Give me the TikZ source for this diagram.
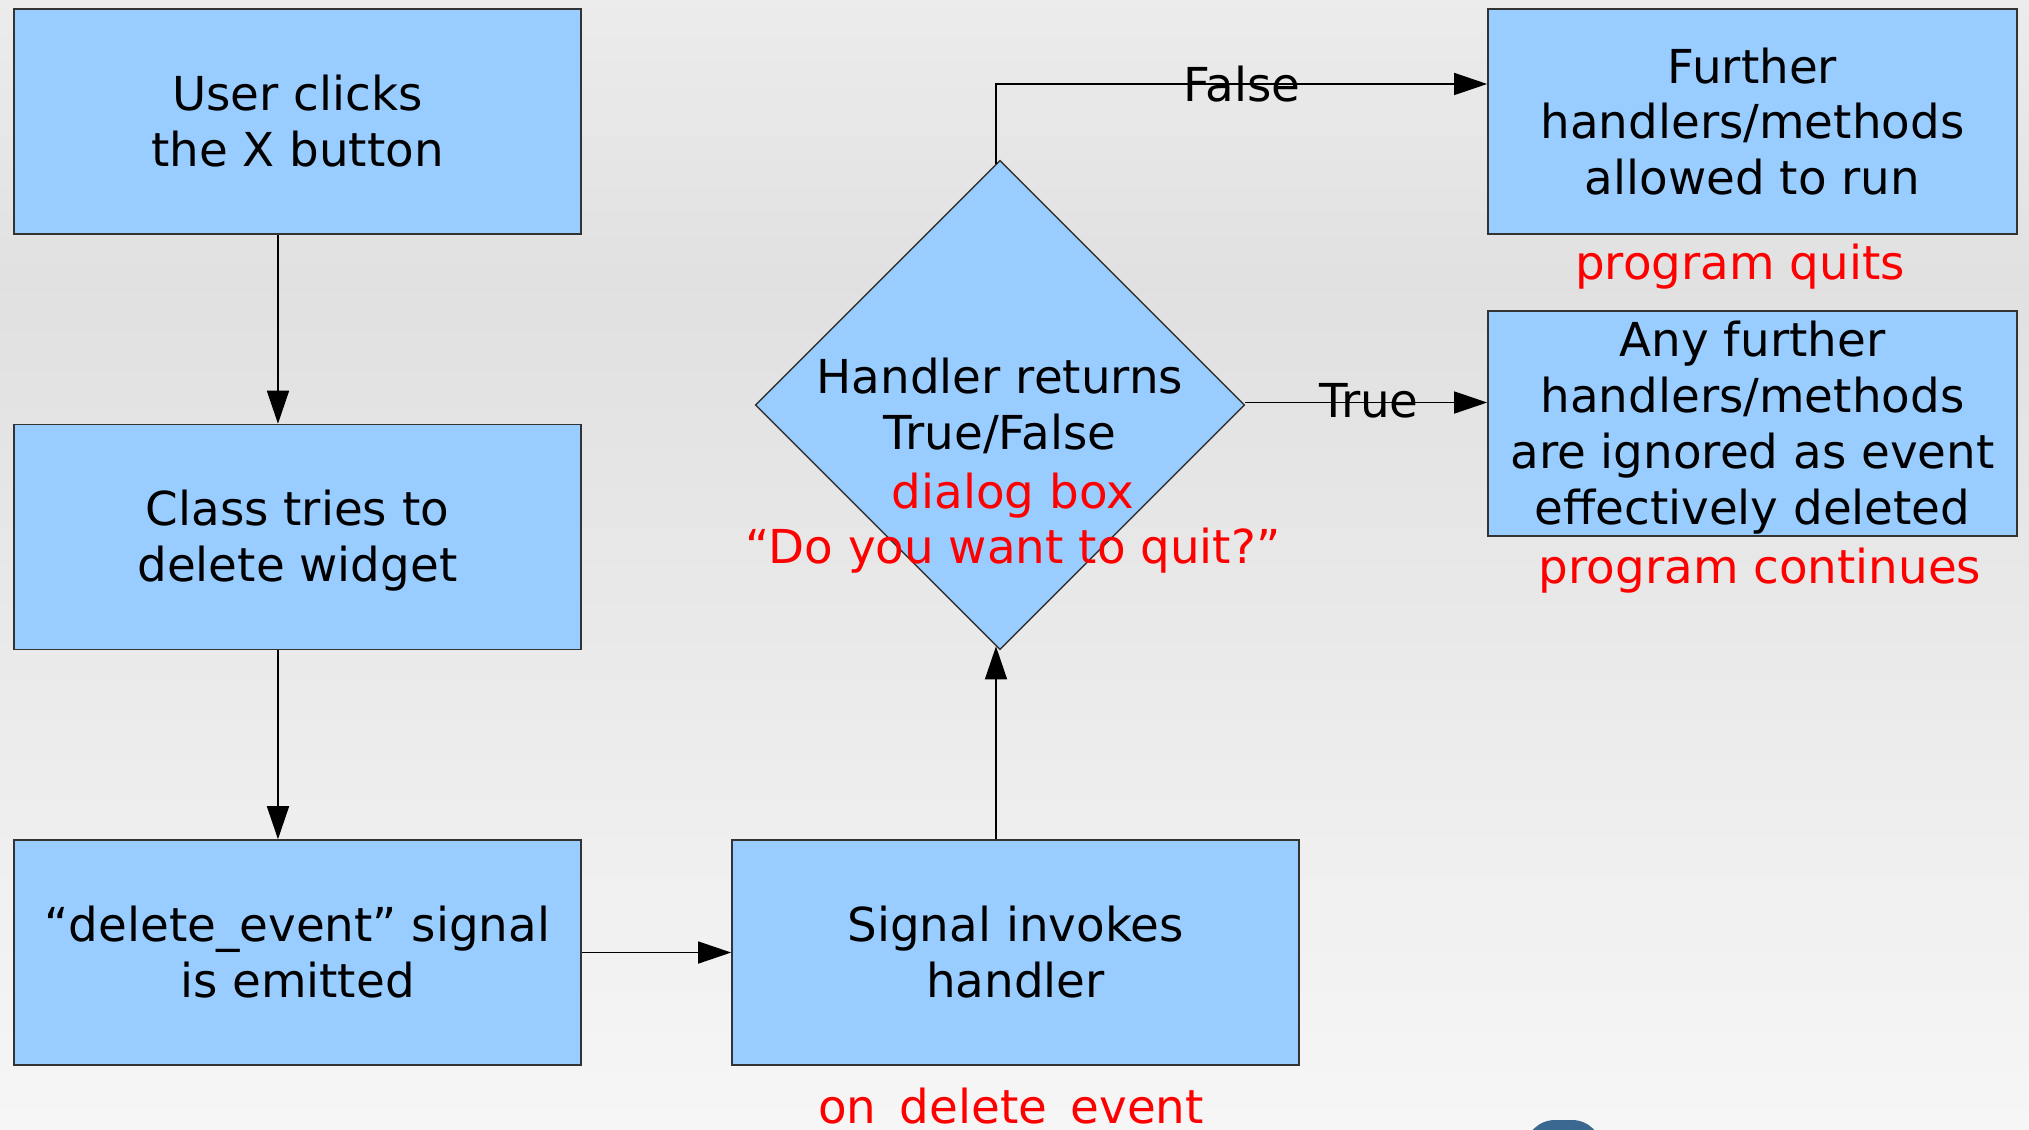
\documentclass[tikz,border=0pt]{standalone}
\usepackage{fontspec}
\setmainfont{DejaVu Sans}
\usetikzlibrary{shapes.geometric,arrows.meta}
\definecolor{boxblue}{HTML}{99CCFF}
\definecolor{bordergray}{HTML}{333333}
\definecolor{logoblue}{HTML}{3A6890}
\tikzset{
  every node/.style={font=\fontsize{13.3pt}{15.9pt}\selectfont},
  procbox/.style={draw=bordergray, line width=0.4pt, fill=boxblue, rectangle,
    minimum width=5.67cm, minimum height=2.25cm, inner sep=0pt, align=center},
  decbox/.style={draw=bordergray, line width=0.4pt, fill=boxblue, diamond,
    minimum size=4.89cm, inner sep=0pt},
  arr/.style={draw=black, line width=0.45pt, -{Triangle[length=0.33cm,width=0.22cm]}},
  redtxt/.style={text=red, inner sep=0pt, align=center},
  blktxt/.style={text=black, inner sep=0pt, align=center},
}
\begin{document}
\begin{tikzpicture}[x=0.01cm,y=-0.01cm]
\clip (0,0) rectangle (2029,1129);
\useasboundingbox (0,0) rectangle (2029,1129);
% background gradient
\shade[top color=black!7.5, bottom color=black!12, draw=none] (0,0) rectangle (2029,290);
\shade[top color=black!12, bottom color=black!3.5, draw=none] (0,289) rectangle (2029,1130);

% logo fragment at bottom
\fill[logoblue, rounded corners=0.3cm] (1525,1120) rectangle (1602,1200);

% boxes
\node[procbox] (b1) at (297.5,121.5) {User clicks\\the X button};
\node[procbox] (b2) at (297.5,537) {};
\node[blktxt] (b2t) at (297.5,541) {Class tries to\\delete widget};
\node[procbox] (b3) at (297.5,952.5) {“delete\_event” signal\\is emitted};
\node[procbox] (b4) at (1015.5,952.5) {Signal invokes\\handler};
\node[decbox] (dia) at (1000,405) {};
\node[procbox, minimum width=5.29cm] (b5) at (1752.5,121.5) {Further\\handlers/methods\\allowed to run};
\node[procbox, minimum width=5.29cm] (b6) at (1752.5,423.5) {};
\node[blktxt] (b6t) at (1752.5,427.5) {Any further\\handlers/methods\\are ignored as event\\effectively deleted};

% diamond texts
\node[blktxt] (dtext) at (1000,405.5) {Handler returns\\True/False};
\node[redtxt] (dlg) at (1013,496) {dialog box};
\node[redtxt] (quit) at (1013,551) {“Do you want to quit?”};

% red notes
\node[redtxt] (pq) at (1740,267) {program quits};
\node[redtxt] (pc) at (1760,571) {program continues};
\node[redtxt, anchor=base] (ode) at (1011,1123) {on\_delete\_event};

% connectors
\coordinate (vx) at (996,0);
\draw[arr] ([xshift=-0.195cm]b1.south) -- ([xshift=-0.195cm]b2.north);
\draw[arr] ([xshift=-0.195cm]b2.south) -- ([xshift=-0.195cm]b3.north);
\draw[arr] (b3.east) -- (b4.west);
\draw[arr] (b4.north -| vx) -- ([yshift=0.04cm]dia.south -| vx);
\draw[arr] ([yshift=-0.04cm]dia.north -| vx) |- ([yshift=0.375cm]b5.west);
\draw[arr] ([yshift=0.025cm]dia.east) -- ([yshift=0.025cm]b6.west |- dia.east);

% edge labels
\node[blktxt] (lf) at (1242,84) {False};
\node[blktxt] (lt) at (1369,401) {True};
\end{tikzpicture}
\end{document}
